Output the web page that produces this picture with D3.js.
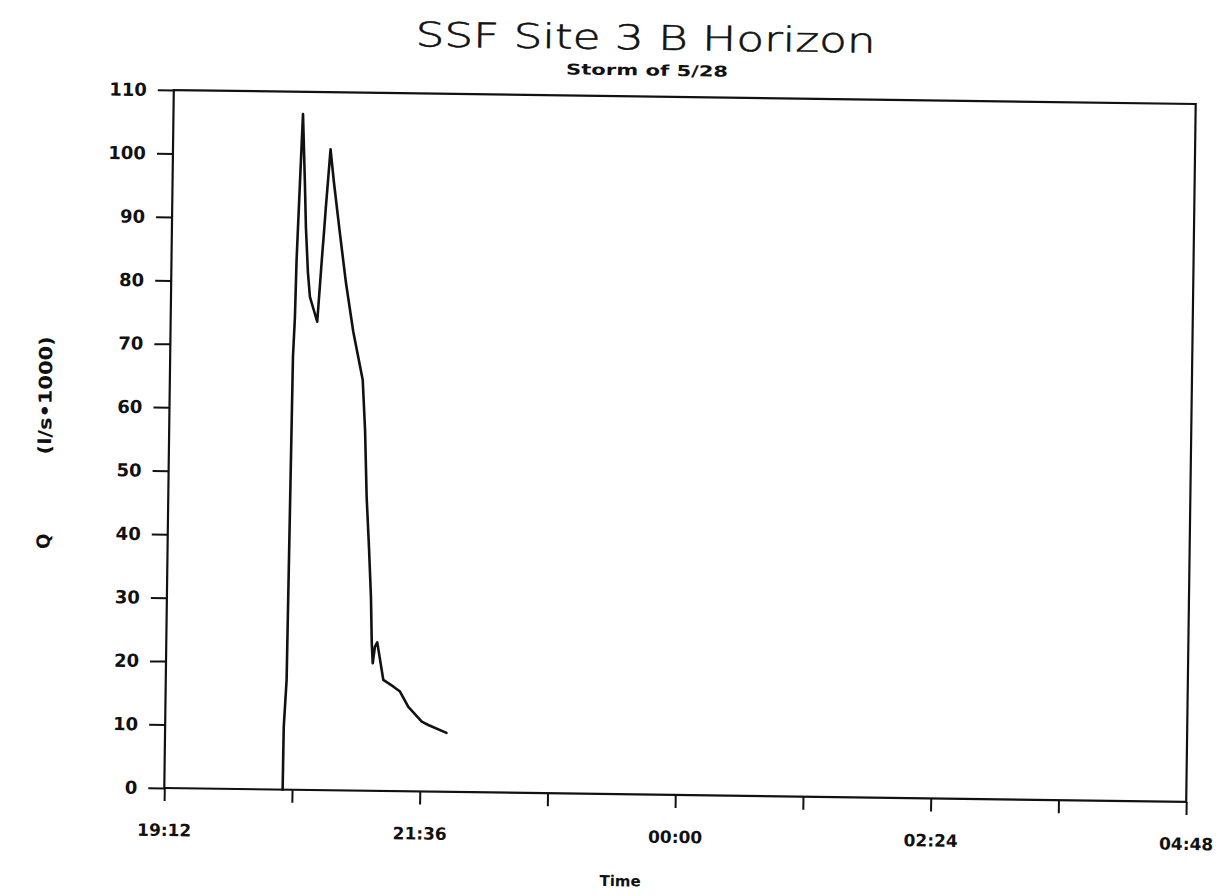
<!DOCTYPE html>
<html>
<head>
<meta charset="utf-8">
<script src="https://cdn.jsdelivr.net/npm/d3@7"></script>
<style>
  html, body { margin: 0; padding: 0; background: #fff; }
  svg { display: block; }
  text { fill: #111; }
</style>
</head>
<body>
<svg id="chart" width="1224" height="896"></svg>
<script>
// Discharge readings for the storm of 5/28 (clock time, Q in l/s*1000)
const times = [
  "20:18:42", "20:18:51", "20:20:06", "20:21:12", "20:22:00", "20:22:30",
  "20:23:48", "20:25:00", "20:26:36", "20:27:30", "20:29:00", "20:30:18",
  "20:34:36", "20:35:48", "20:36:42", "20:37:42", "20:38:36", "20:40:48",
  "20:43:00", "20:46:42", "20:50:30", "20:55:00", "21:00:42", "21:02:24",
  "21:03:48", "21:05:30", "21:07:00", "21:07:48", "21:08:30", "21:09:36",
  "21:10:54", "21:14:36", "21:20:12", "21:24:06", "21:28:54", "21:36:36",
  "21:40:18", "21:50:36"
];
const discharge = [
  0, 9.9, 17.3, 68.2, 74.5, 83.5,
  95.6, 106.5, 95.6, 88.7, 81.5, 77.7,
  73.8, 79.3, 83.5, 87.8, 91.9, 101.0,
  95.7, 87.8, 80.0, 72.3, 64.7, 56.8,
  46.3, 38.4, 30.5, 23.3, 20.1, 22.7,
  23.4, 17.5, 16.5, 15.7, 13.3, 11.0,
  10.5, 9.3
];

// Axis settings
const timeStart = "19:12";
const timeEnd = "04:48";
const labelledTicks = ["19:12", "21:36", "00:00", "02:24", "04:48"];
const minorTicks = ["20:24", "22:48", "01:12", "03:36"];
const yTicks = [0, 10, 20, 30, 40, 50, 60, 70, 80, 90, 100, 110];

const titleText = "SSF Site 3 B Horizon";
const subtitleText = "Storm of 5/28";
const xLabelText = "Time";
const yLabelSymbol = "Q";
const yLabelUnits = "(l/s\u20221000)";

// Clock times run past midnight into the next day
const parseClock = d3.timeParse("%H:%M:%S");
function toDate(s) {
  const full = s.length === 5 ? s + ":00" : s;
  const t = parseClock(full);
  const d = new Date(2000, 4, 28, t.getHours(), t.getMinutes(), t.getSeconds());
  if (t.getHours() < 12) d.setDate(d.getDate() + 1);
  return d;
}

const data = times.map((t, i) => ({ t: toDate(t), q: discharge[i] }));

const svg = d3.select("#chart");
const margin = { left: 169, right: 1191, top: 97, bottom: 795 };
const tickFont = "DejaVu Sans, Verdana, sans-serif";

// The whole sheet sits slightly turned
const page = svg.append("g").attr("transform", "rotate(0.78, 680, 446)");

const x = d3.scaleTime()
  .domain([toDate(timeStart), toDate(timeEnd)])
  .range([margin.left, margin.right]);
const y = d3.scaleLinear()
  .domain([0, 110])
  .range([margin.bottom, margin.top]);

const allTicks = labelledTicks.concat(minorTicks).map(toDate).sort((a, b) => a - b);
const labelSet = new Set(labelledTicks.map(s => +toDate(s)));
const fmt = d3.timeFormat("%H:%M");

// X axis
const xAxis = d3.axisBottom(x)
  .tickValues(allTicks)
  .tickSize(13)
  .tickSizeOuter(0)
  .tickPadding(23)
  .tickFormat(d => labelSet.has(+d) ? fmt(d) : "");
const gx = page.append("g")
  .attr("transform", `translate(0,${margin.bottom})`)
  .call(xAxis);
gx.select(".domain").remove();
gx.selectAll(".tick line").attr("stroke", "#111").attr("stroke-width", 2);
gx.selectAll(".tick text")
  .attr("font-family", tickFont)
  .attr("font-weight", "bold")
  .attr("font-size", 17)
  .attr("fill", "#111");

// Y axis
const yAxis = d3.axisLeft(y)
  .tickValues(yTicks)
  .tickSize(16)
  .tickSizeOuter(0)
  .tickPadding(11)
  .tickFormat(d3.format("d"));
const gy = page.append("g")
  .attr("transform", `translate(${margin.left},0)`)
  .call(yAxis);
gy.select(".domain").remove();
gy.selectAll(".tick line").attr("stroke", "#111").attr("stroke-width", 2);
gy.selectAll(".tick text")
  .attr("font-family", tickFont)
  .attr("font-weight", "bold")
  .attr("font-size", 18)
  .attr("fill", "#111");

// Plot frame
page.append("rect")
  .attr("x", margin.left)
  .attr("y", margin.top)
  .attr("width", margin.right - margin.left)
  .attr("height", margin.bottom - margin.top)
  .attr("fill", "none")
  .attr("stroke", "#111")
  .attr("stroke-width", 2.2);

// Discharge trace
const line = d3.line()
  .x(d => x(d.t))
  .y(d => y(d.q));
page.append("path")
  .datum(data)
  .attr("d", line)
  .attr("fill", "none")
  .attr("stroke", "#111")
  .attr("stroke-width", 2.6)
  .attr("stroke-linejoin", "round")
  .attr("stroke-linecap", "round");

// Titles and axis labels
page.append("text")
  .attr("x", 640)
  .attr("y", 50)
  .attr("text-anchor", "middle")
  .attr("font-family", "DejaVu Sans, Verdana, sans-serif")
  .attr("font-weight", 200)
  .attr("font-size", 34)
  .attr("stroke", "#111")
  .attr("stroke-width", 0.6)
  .attr("textLength", 460)
  .attr("lengthAdjust", "spacingAndGlyphs")
  .text(titleText);

page.append("text")
  .attr("x", 642)
  .attr("y", 76)
  .attr("text-anchor", "middle")
  .attr("font-family", tickFont)
  .attr("font-weight", "bold")
  .attr("font-size", 15)
  .attr("textLength", 162)
  .attr("lengthAdjust", "spacingAndGlyphs")
  .text(subtitleText);

page.append("text")
  .attr("x", 626)
  .attr("y", 887)
  .attr("text-anchor", "middle")
  .attr("font-family", tickFont)
  .attr("font-weight", "bold")
  .attr("font-size", 15)
  .text(xLabelText);

page.append("text")
  .attr("transform", "translate(51,550) rotate(-90)")
  .attr("text-anchor", "middle")
  .attr("font-family", tickFont)
  .attr("font-weight", "bold")
  .attr("font-size", 18)
  .text(yLabelSymbol);

page.append("text")
  .attr("transform", "translate(51,404) rotate(-90)")
  .attr("text-anchor", "middle")
  .attr("font-family", tickFont)
  .attr("font-weight", "bold")
  .attr("font-size", 18)
  .attr("textLength", 118)
  .attr("lengthAdjust", "spacingAndGlyphs")
  .text(yLabelUnits);
</script>
</body>
</html>
